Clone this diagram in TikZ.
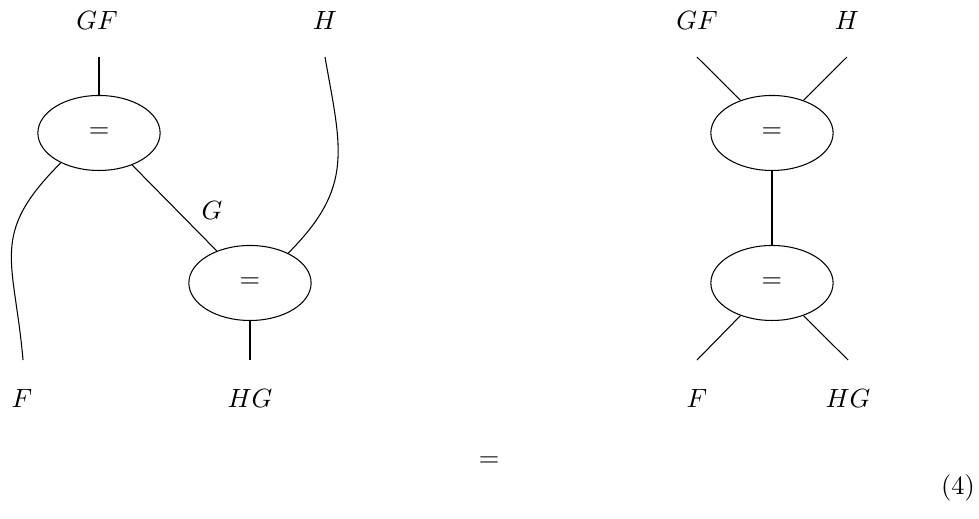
\documentclass[tikz,border=0pt]{standalone}
\usetikzlibrary{shapes.geometric}
\tikzset{
  vertex/.style={draw,ellipse,minimum width=1.63cm,minimum height=1.0cm,inner sep=0pt},
  wirelabel/.style={inner sep=1pt}
}
\begin{document}
\begin{tikzpicture}[scale=1.0]
\useasboundingbox (0,0) rectangle (13.053,-6.907);

% left diagram
\node[vertex] (ltop) at (1.32,-1.773) {$=$};
\node[vertex] (lbot) at (3.333,-3.773) {$=$};
\coordinate (lgf) at (1.32,-0.76);
\coordinate (lh) at (4.333,-0.76);
\coordinate (lf) at (0.307,-4.8);
\coordinate (lhg) at (3.333,-4.8);
\node[wirelabel] (lgflab) at (1.293,-0.267) {$GF$};
\node[wirelabel] (lhlab) at (4.333,-0.267) {$H$};
\node[wirelabel] (lflab) at (0.293,-5.307) {$F$};
\node[wirelabel] (lhglab) at (3.333,-5.307) {$HG$};
\node[wirelabel] (lglab) at (2.827,-2.8) {$G$};

\draw (lgf) -- (ltop.north);
\draw (ltop.-44) -- (lbot.136);
\draw (ltop.-142) to[out=-135,in=95,looseness=1.3] (lf);
\draw (lbot.38) to[out=45,in=-80,looseness=1.2] (lh);
\draw (lbot.south) -- (lhg);

% right diagram
\node[vertex] (rtop) at (10.293,-1.773) {$=$};
\node[vertex] (rbot) at (10.293,-3.773) {$=$};
\coordinate (rgf) at (9.293,-0.76);
\coordinate (rh) at (11.293,-0.76);
\coordinate (rf) at (9.293,-4.8);
\coordinate (rhg) at (11.307,-4.8);
\node[wirelabel] (rgflab) at (9.293,-0.267) {$GF$};
\node[wirelabel] (rhlab) at (11.293,-0.267) {$H$};
\node[wirelabel] (rflab) at (9.293,-5.307) {$F$};
\node[wirelabel] (rhglab) at (11.307,-5.307) {$HG$};

\draw (rgf) -- (rtop.134);
\draw (rh) -- (rtop.46);
\draw (rtop.south) -- (rbot.north);
\draw (rbot.-134) -- (rf);
\draw (rbot.-46) -- (rhg);

\node (eq) at (6.52,-6.16) {$=$};
\node (tag) at (12.773,-6.507) {(4)};
\end{tikzpicture}
\end{document}
